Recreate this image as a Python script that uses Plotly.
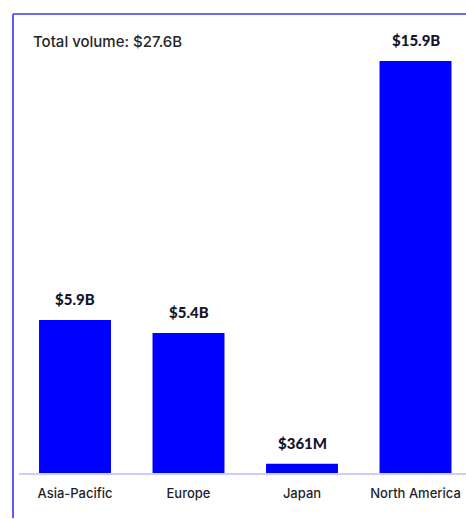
import plotly.graph_objects as go

regions = ["Asia-Pacific", "Europe", "Japan", "North America"]
volumes_b = [5.9, 5.4, 0.361, 15.9]
value_labels = ["$5.9B", "$5.4B", "$361M", "$15.9B"]
total_label = "Total volume: $27.6B"

W, H = 466, 519
ML, MR, MT, MB = 19, 0, 14, 46

fig = go.Figure()
fig.add_trace(go.Bar(
    x=list(range(len(regions))),
    y=volumes_b,
    width=0.634,
    marker=dict(color="#0000ff", line=dict(width=0)),
    hoverinfo="skip",
))

for i, (v, lab) in enumerate(zip(volumes_b, value_labels)):
    fig.add_annotation(
        x=i, y=v, text=lab, showarrow=False,
        xanchor="center", yanchor="bottom", yshift=10,
        font=dict(family="Lato", size=15, color="#14142b", weight=900),
    )

fig.add_annotation(
    xref="paper", yref="paper", x=(31 - ML) / (W - ML - MR), y=(H - MB - 41) / (H - MT - MB),
    text=total_label, showarrow=False, xanchor="left", yanchor="middle",
    font=dict(family="Inter", size=15, color="#262626", weight=500),
)

pw = W - ML - MR
ph = H - MT - MB
# frame lines (left and top)
fig.add_shape(type="line", xref="paper", yref="paper",
              x0=(13 - ML) / pw, x1=(13 - ML) / pw, y0=1, y1=(H - MB - 518) / ph,
              line=dict(color="#5a5aff", width=2))
fig.add_shape(type="line", xref="paper", yref="paper",
              x0=(13 - ML) / pw, x1=(466 - ML) / pw, y0=1, y1=1,
              line=dict(color="#3a3aff", width=1.5))

step = 113.5
x_left = (ML - 18.25) / step - 0.5
x_right = (W - MR - 18.25) / step - 0.5
ymax = ph / (412 / 15.9)

fig.update_layout(
    width=W, height=H,
    margin=dict(l=ML, r=MR, t=MT, b=MB, pad=0),
    paper_bgcolor="white", plot_bgcolor="white",
    showlegend=False,
    xaxis=dict(
        range=[x_left, x_right], tickmode="array",
        tickvals=list(range(len(regions))), ticktext=regions,
        showgrid=False, zeroline=False, showline=True,
        linecolor="#cdcdff", linewidth=2,
        ticks="outside", ticklen=7, tickcolor="rgba(0,0,0,0)",
        tickfont=dict(family="Inter", size=13, color="#1f1f2e", weight=500),
        fixedrange=True,
    ),
    yaxis=dict(range=[0, ymax], visible=False, showgrid=False, zeroline=False, fixedrange=True),
)

fig.write_html("out.html", config={"displayModeBar": False})
